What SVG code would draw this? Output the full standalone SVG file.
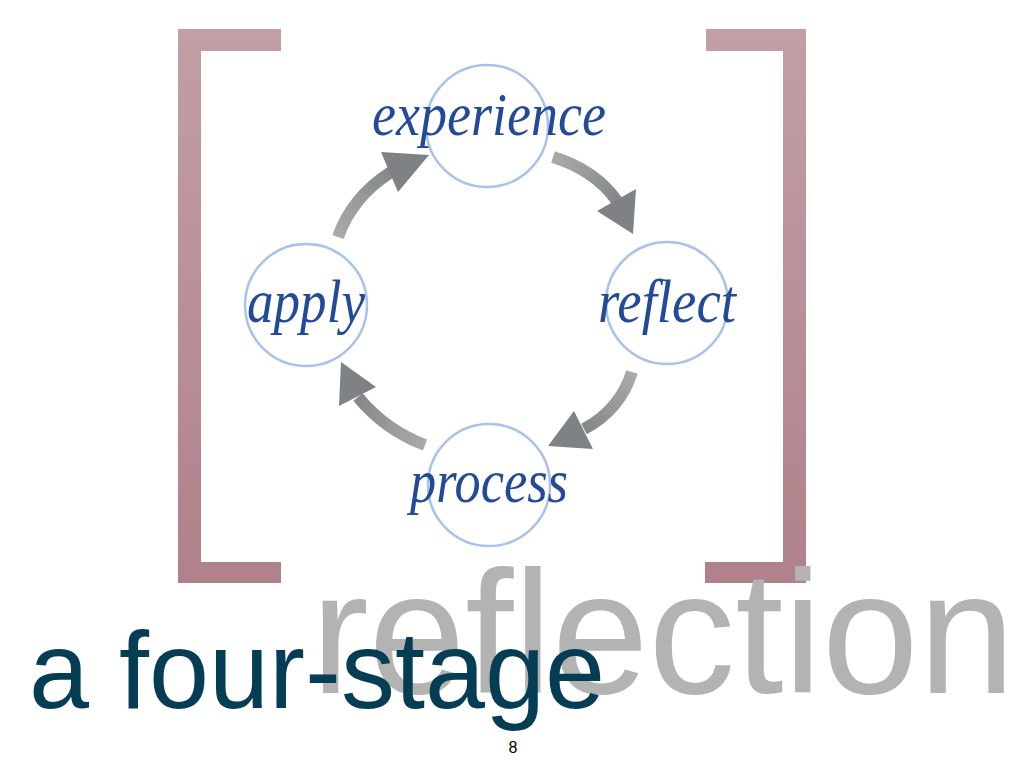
<svg xmlns="http://www.w3.org/2000/svg" width="1024" height="768" viewBox="0 0 1024 768">
  <defs>
    <linearGradient id="bracketGrad" gradientUnits="userSpaceOnUse" x1="0" y1="29" x2="0" y2="583">
      <stop offset="0" stop-color="#c29fa5"/>
      <stop offset="1" stop-color="#b0818a"/>
    </linearGradient>
    <linearGradient id="a1" gradientUnits="userSpaceOnUse" x1="338" y1="237" x2="392" y2="172">
      <stop offset="0" stop-color="#a9abab"/>
      <stop offset="1" stop-color="#858889"/>
    </linearGradient>
    <linearGradient id="a2" gradientUnits="userSpaceOnUse" x1="553" y1="157" x2="616" y2="200">
      <stop offset="0" stop-color="#a9abab"/>
      <stop offset="1" stop-color="#858889"/>
    </linearGradient>
    <linearGradient id="a3" gradientUnits="userSpaceOnUse" x1="632" y1="372" x2="585" y2="428">
      <stop offset="0" stop-color="#a9abab"/>
      <stop offset="1" stop-color="#858889"/>
    </linearGradient>
    <linearGradient id="a4" gradientUnits="userSpaceOnUse" x1="425" y1="445" x2="359" y2="398">
      <stop offset="0" stop-color="#a9abab"/>
      <stop offset="1" stop-color="#858889"/>
    </linearGradient>
    <style>
      .bracket { fill: url(#bracketGrad); }
      .ring { fill: none; stroke: #a8c2eb; stroke-width: 2.5; }
      .lbl { font-family: "Liberation Serif", "DejaVu Serif", serif; font-style: italic; font-size: 62px; fill: #224a98; }
      .shaft { fill: none; stroke-width: 12; stroke-linecap: butt; }
      .head { fill: #7e8284; }
      .big { font-family: "Liberation Sans", Arial, sans-serif; }
    </style>
  </defs>
  <rect width="1024" height="768" fill="#ffffff"/>

  <g id="brackets">
    <path class="bracket" d="M178,29 H281 V51 H201 V562 H281 V583 H178 Z"/>
    <path class="bracket" d="M706,29 H806 V583 H705 V562 H783 V51 H706 Z"/>
  </g>

  <g id="title-reflection">
    <text class="big" x="311" y="693" font-size="174" fill="#b3b3b3" textLength="704" lengthAdjust="spacingAndGlyphs">reflection</text>
  </g>

  <g id="connectors">
    <g id="apply-to-experience">
      <path class="shaft" stroke="url(#a1)" d="M338,237 Q352,197 391,172"/>
      <polygon class="head" points="381,152 429,155 398,192"/>
    </g>
    <g id="experience-to-reflect">
      <path class="shaft" stroke="url(#a2)" d="M553,157 Q595,170 617,201"/>
      <polygon class="head" points="597,211 636,189 633,234"/>
    </g>
    <g id="reflect-to-process">
      <path class="shaft" stroke="url(#a3)" d="M632,372 Q620,410 584,429"/>
      <polygon class="head" points="574,411 593,449 548,446"/>
    </g>
    <g id="process-to-apply">
      <path class="shaft" stroke="url(#a4)" d="M425,445 Q385,430 358,397"/>
      <polygon class="head" points="339,406 376,387 341,362"/>
    </g>
  </g>

  <g id="node-experience">
    <circle class="ring" cx="487" cy="126" r="61"/>
    <text class="lbl" x="372" y="135" textLength="234" lengthAdjust="spacingAndGlyphs">experience</text>
  </g>
  <g id="node-reflect">
    <circle class="ring" cx="667" cy="303" r="61"/>
    <text class="lbl" x="598" y="322" textLength="138" lengthAdjust="spacingAndGlyphs">reflect</text>
  </g>
  <g id="node-process">
    <circle class="ring" cx="489" cy="485" r="61"/>
    <text class="lbl" x="410" y="502" textLength="158" lengthAdjust="spacingAndGlyphs">process</text>
  </g>
  <g id="node-apply">
    <circle class="ring" cx="306" cy="305" r="61"/>
    <text class="lbl" x="247" y="322" textLength="118" lengthAdjust="spacingAndGlyphs">apply</text>
  </g>

  <g id="title-four-stage">
    <text class="big" x="29" y="708" font-size="110" fill="#053d55" textLength="576" lengthAdjust="spacingAndGlyphs">a four-stage</text>
  </g>
  <g id="page-number">
    <text class="big" x="513" y="753" font-size="16" fill="#000000" text-anchor="middle">8</text>
  </g>
</svg>
